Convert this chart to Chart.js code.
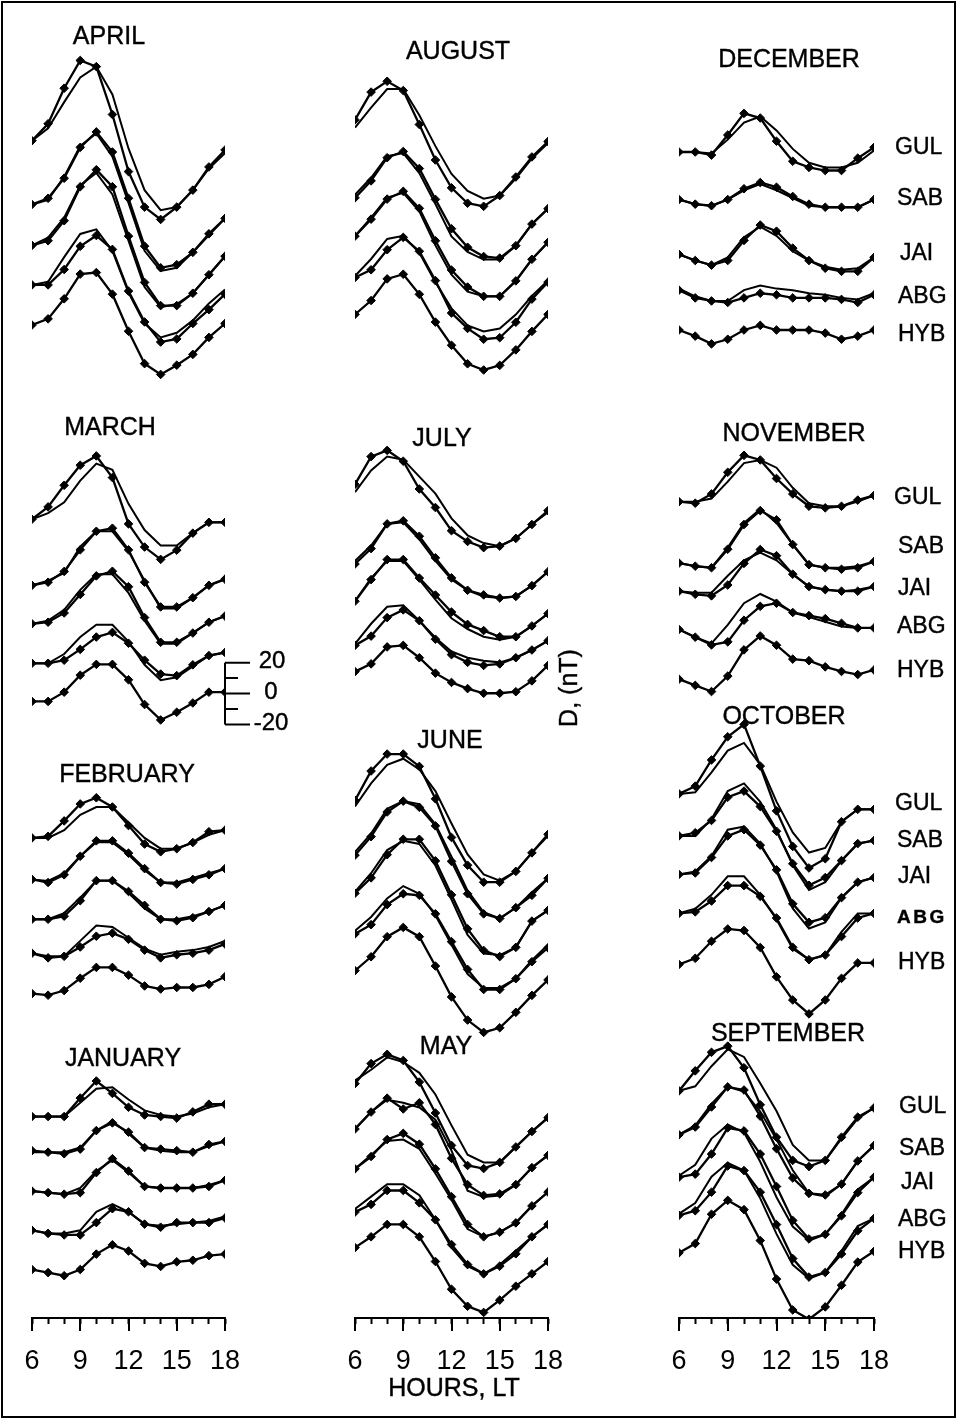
<!DOCTYPE html>
<html>
<head>
<meta charset="utf-8">
<script src="https://cdn.jsdelivr.net/npm/chart.js@4.4.1/dist/chart.umd.min.js"></script>
<style>
  html, body { margin: 0; padding: 0; background: #fff; }
  #page { position: relative; width: 957px; height: 1419px; overflow: hidden;
          font-family: "Liberation Sans", Arial, sans-serif; color: #000; }
  canvas { position: absolute; top: 0; }
  .frame { position: absolute; left: 1px; top: 1px; width: 951px; height: 1413px; border: 2px solid #000; }
  .t { position: absolute; transform: translate(-50%, -50%); white-space: nowrap; line-height: 1;
       -webkit-text-stroke: 0.4px #000; }
  .month { font-size: 25px; }
  .stn { position: absolute; transform: translateY(-50%); line-height: 1; font-size: 23px;
         -webkit-text-stroke: 0.4px #000; }
  .bar { font-size: 24px; }
</style>
</head>
<body>
<div id="page">
  <canvas id="c0" width="320" height="1419" style="left:0px"></canvas>
  <canvas id="c1" width="320" height="1419" style="left:320px"></canvas>
  <canvas id="c2" width="317" height="1419" style="left:640px"></canvas>
  <div class="frame"></div>

  <div class="t month" style="left:109px;top:35px">APRIL</div>
  <div class="t month" style="left:110px;top:426px">MARCH</div>
  <div class="t month" style="left:127px;top:773px">FEBRUARY</div>
  <div class="t month" style="left:123px;top:1057px">JANUARY</div>
  <div class="t month" style="left:458px;top:50px">AUGUST</div>
  <div class="t month" style="left:442px;top:437px">JULY</div>
  <div class="t month" style="left:450px;top:739px">JUNE</div>
  <div class="t month" style="left:446px;top:1045px">MAY</div>
  <div class="t month" style="left:789px;top:58px">DECEMBER</div>
  <div class="t month" style="left:794px;top:432px">NOVEMBER</div>
  <div class="t month" style="left:784px;top:715px">OCTOBER</div>
  <div class="t month" style="left:788px;top:1032px">SEPTEMBER</div>

  <div class="stn" style="left:895px;top:146px">GUL</div>
  <div class="stn" style="left:897px;top:197px">SAB</div>
  <div class="stn" style="left:900px;top:252px">JAI</div>
  <div class="stn" style="left:898px;top:295px">ABG</div>
  <div class="stn" style="left:898px;top:333px">HYB</div>

  <div class="stn" style="left:894px;top:496px">GUL</div>
  <div class="stn" style="left:898px;top:545px">SAB</div>
  <div class="stn" style="left:898px;top:587px">JAI</div>
  <div class="stn" style="left:897px;top:625px">ABG</div>
  <div class="stn" style="left:897px;top:669px">HYB</div>

  <div class="stn" style="left:895px;top:802px">GUL</div>
  <div class="stn" style="left:897px;top:839px">SAB</div>
  <div class="stn" style="left:898px;top:875px">JAI</div>
  <div class="stn" style="left:897px;top:916px;font-size:19px;font-weight:bold;letter-spacing:2.5px">ABG</div>
  <div class="stn" style="left:898px;top:961px">HYB</div>

  <div class="stn" style="left:899px;top:1105px">GUL</div>
  <div class="stn" style="left:899px;top:1147px">SAB</div>
  <div class="stn" style="left:901px;top:1181px">JAI</div>
  <div class="stn" style="left:898px;top:1218px">ABG</div>
  <div class="stn" style="left:898px;top:1250px">HYB</div>

  <div class="t bar" style="left:272px;top:660px">20</div>
  <div class="t bar" style="left:271px;top:691px">0</div>
  <div class="t bar" style="left:271px;top:722px">-20</div>

  <div class="t" style="left:568px;top:688px;font-size:25px;transform:translate(-50%,-50%) rotate(-90deg)">D, (nT)</div>
  <div class="t" style="left:454px;top:1387px;font-size:25px">HOURS, LT</div>
</div>

<script>
const HOURS = [6, 7, 8, 9, 10, 11, 12, 13, 14, 15, 16, 17, 18];
const LABELED_HOURS = [6, 9, 12, 15, 18];
const STATIONS = ['GUL', 'SAB', 'JAI', 'ABG', 'HYB'];

// D variation in nT, relative to each curve's 06 LT value.
// *Obs = curves with markers (5 stations), *Model = plain curves (GUL..ABG)
const aprilObs = [
  [0, 11, 34, 52, 48, 17, -20, -43, -51, -43, -32, -17, -6],
  [0, 4, 17, 37, 47, 34, 4, -27, -41, -39, -31, -19, -9],
  [0, 3, 16, 38, 49, 38, 6, -24, -39, -39, -31, -19, -7],
  [0, 0, 10, 25, 32, 23, -4, -24, -37, -35, -25, -16, -6],
  [0, 4, 17, 33, 34, 20, -4, -25, -32, -26, -19, -8, 1]
];
const aprilModel = [
  [0, 8, 25, 41, 48, 30, -5, -32, -45, -43, -32, -18, -8],
  [0, 3, 18, 38, 46, 31, 1, -30, -43, -41, -31, -20, -9],
  [0, 5, 18, 39, 47, 33, 3, -27, -40, -38, -31, -19, -7],
  [0, 2, 18, 33, 36, 22, -5, -25, -34, -31, -23, -12, -3]
];
const marchObs = [
  [0, 8, 22, 35, 41, 27, -3, -18, -26, -20, -9, -2, -2],
  [0, 2, 9, 23, 35, 37, 23, 2, -14, -14, -8, 0, 4],
  [0, 1, 7, 19, 31, 34, 24, 4, -12, -12, -6, 1, 5],
  [0, 0, 2, 9, 17, 20, 13, 2, -7, -8, -1, 5, 7],
  [0, 0, 6, 17, 24, 24, 14, -2, -12, -7, -1, 6, 6]
];
const marchModel = [
  [0, 4, 11, 25, 36, 32, 10, -7, -17, -17, -9, -2, -2],
  [0, 3, 8, 25, 35, 35, 22, 3, -15, -15, -8, 0, 4],
  [0, 2, 9, 22, 32, 32, 20, 2, -13, -13, -6, 1, 5],
  [0, 0, 6, 17, 25, 25, 14, -1, -11, -9, -2, 5, 7]
];
const februaryObs = [
  [0, 1, 11, 22, 26, 20, 8, -4, -9, -7, -3, 4, 5],
  [0, -2, 3, 15, 25, 25, 17, 7, -2, -3, 0, 3, 7],
  [0, 0, 2, 12, 25, 25, 18, 9, 0, -1, 1, 5, 9],
  [0, -3, -2, 4, 11, 13, 9, 2, -3, -1, 0, 2, 6],
  [0, -1, 2, 10, 17, 17, 12, 5, 3, 4, 4, 6, 11]
];
const februaryModel = [
  [0, 0, 5, 15, 20, 20, 10, 0, -7, -7, -3, 2, 5],
  [0, -1, 4, 15, 24, 24, 16, 6, -2, -2, 1, 4, 7],
  [0, 0, 4, 14, 25, 25, 17, 7, 0, 0, 2, 5, 9],
  [0, -2, -2, 8, 18, 17, 10, 3, -1, 1, 2, 4, 8]
];
const januaryObs = [
  [0, 0, 0, 12, 23, 15, 6, 1, 0, -1, 3, 8, 8],
  [0, -1, -2, 1, 13, 18, 12, 2, 1, 0, -1, 4, 6],
  [0, -1, -2, -1, 12, 21, 13, 3, 2, 2, 2, 3, 7],
  [0, -2, -3, -3, 5, 14, 12, 4, 2, 5, 5, 5, 8],
  [0, -2, -4, 0, 10, 16, 12, 4, 2, 5, 6, 9, 10]
];
const januaryModel = [
  [0, 0, 0, 9, 18, 19, 11, 4, 1, 0, 2, 6, 8],
  [-1, -1, -1, 2, 13, 19, 11, 2, 0, -1, -1, 3, 6],
  [0, -1, -2, 2, 13, 20, 12, 3, 2, 2, 2, 4, 7],
  [0, -2, -2, 0, 12, 17, 12, 4, 3, 4, 5, 6, 9]
];
const augustObs = [
  [0, 18, 25, 19, -3, -26, -44, -54, -56, -49, -37, -24, -14],
  [0, 11, 26, 30, 19, -1, -20, -32, -38, -39, -31, -17, -7],
  [0, 11, 24, 29, 18, -3, -22, -33, -39, -39, -29, -15, -4],
  [0, 5, 18, 26, 17, -2, -23, -33, -40, -39, -29, -14, -3],
  [0, 9, 23, 26, 13, -5, -20, -32, -36, -33, -23, -11, 0]
];
const augustModel = [
  [-5, 8, 20, 20, 3, -17, -35, -46, -51, -49, -38, -25, -15],
  [2, 13, 27, 29, 16, -4, -25, -35, -40, -40, -31, -17, -7],
  [0, 12, 25, 28, 16, -6, -25, -36, -39, -39, -29, -15, -4],
  [1, 12, 25, 27, 16, -3, -20, -31, -35, -33, -24, -12, -2]
];
const julyObs = [
  [0, 18, 22, 15, -3, -15, -30, -37, -41, -40, -35, -26, -17],
  [0, 10, 26, 28, 18, 4, -9, -17, -20, -22, -21, -14, -5],
  [0, 14, 27, 27, 15, 4, -7, -15, -19, -23, -23, -16, -8],
  [0, 6, 18, 23, 16, 4, -6, -11, -13, -12, -8, -3, 3],
  [0, 5, 16, 17, 9, -1, -7, -11, -14, -14, -13, -6, 4]
];
const julyModel = [
  [-5, 9, 18, 16, 5, -6, -22, -33, -38, -40, -35, -26, -18],
  [2, 12, 26, 27, 16, 2, -10, -17, -21, -22, -21, -14, -5],
  [0, 15, 26, 26, 14, 1, -11, -18, -23, -25, -23, -16, -8],
  [1, 14, 25, 26, 16, 5, -4, -8, -10, -11, -8, -3, 3]
];
const juneObs = [
  [0, 19, 30, 30, 22, 1, -24, -42, -53, -53, -46, -34, -22],
  [0, 12, 28, 35, 31, 19, -4, -25, -38, -41, -34, -26, -15],
  [0, 10, 25, 35, 35, 21, -1, -23, -37, -41, -35, -18, -11],
  [0, 6, 19, 26, 25, 13, -5, -23, -36, -36, -29, -18, -9],
  [0, 9, 22, 28, 22, 3, -17, -32, -40, -37, -27, -16, -6]
];
const juneModel = [
  [-4, 11, 23, 27, 20, 6, -15, -35, -48, -52, -46, -34, -23],
  [2, 14, 30, 35, 33, 20, -1, -23, -37, -41, -34, -24, -15],
  [1, 13, 28, 34, 32, 18, -4, -27, -39, -40, -35, -18, -11],
  [2, 11, 23, 31, 26, 12, -7, -26, -35, -35, -29, -17, -7]
];
const mayObs = [
  [0, 13, 19, 15, 1, -19, -40, -53, -55, -51, -41, -31, -22],
  [0, 11, 20, 13, 17, 3, -19, -36, -43, -42, -36, -25, -17],
  [0, 8, 19, 23, 16, 0, -18, -36, -44, -41, -35, -24, -15],
  [0, 5, 14, 14, 6, -5, -21, -34, -40, -35, -27, -16, -8],
  [0, 7, 15, 15, 7, -9, -27, -38, -42, -34, -25, -17, -9]
];
const mayModel = [
  [2, 9, 17, 14, 7, -7, -27, -46, -51, -51, -41, -31, -22],
  [0, 11, 19, 17, 14, 6, -14, -40, -44, -43, -36, -25, -17],
  [0, 9, 18, 19, 13, -3, -20, -39, -44, -41, -35, -24, -15],
  [2, 10, 18, 18, 11, -5, -23, -35, -40, -34, -25, -16, -8]
];
const decemberObs = [
  [0, 0, -2, 11, 25, 22, 7, -6, -10, -12, -12, -4, 3],
  [0, -3, -4, 0, 7, 11, 8, 2, -3, -5, -5, -5, 0],
  [0, -4, -7, -4, 9, 19, 15, 4, -4, -9, -11, -11, -2],
  [0, -5, -7, -8, -5, -2, -3, -5, -5, -5, -6, -8, -3],
  [0, -4, -9, -6, 0, 3, 0, 0, 0, -2, -6, -4, 0]
];
const decemberModel = [
  [0, 0, -1, 8, 19, 23, 14, 2, -7, -10, -10, -7, 1],
  [0, -3, -4, 0, 6, 10, 6, 1, -4, -5, -5, -5, 0],
  [0, -4, -7, -2, 11, 18, 12, 2, -4, -8, -10, -9, -2],
  [1, -4, -7, -7, 0, 3, 1, 0, -2, -3, -5, -6, -2]
];
const novemberObs = [
  [0, -1, 5, 19, 30, 27, 15, 5, -3, -4, -3, 1, 4],
  [0, -2, -3, 9, 25, 34, 28, 12, -1, -3, -4, -3, 1],
  [0, -2, -3, 4, 18, 27, 23, 11, 3, 1, 0, 0, 3],
  [0, -5, -10, -8, 6, 15, 17, 11, 9, 7, 4, 1, 1],
  [0, -4, -8, 2, 19, 28, 22, 13, 12, 8, 5, 3, 6]
];
const novemberModel = [
  [0, 0, 2, 13, 25, 27, 22, 9, -1, -3, -3, 0, 4],
  [0, -2, -3, 10, 26, 35, 26, 12, -1, -3, -3, -2, 1],
  [0, -1, -1, 10, 20, 25, 20, 11, 3, 1, 0, 1, 3],
  [0, -5, -9, 3, 17, 23, 18, 11, 8, 5, 2, 1, 1]
];
const octoberObs = [
  [0, 5, 22, 37, 45, 18, -11, -34, -48, -42, -18, -10, -10],
  [0, 2, 10, 25, 29, 19, 3, -18, -32, -27, -16, -5, -3],
  [0, 1, 11, 25, 29, 19, 3, -19, -31, -28, -15, -5, -2],
  [0, 1, 8, 18, 18, 11, -3, -22, -30, -27, -15, -3, 0],
  [0, 4, 15, 23, 22, 11, -8, -23, -32, -23, -9, 1, 1]
];
const octoberModel = [
  [0, 1, 14, 28, 33, 19, -5, -25, -38, -35, -18, -10, -10],
  [0, 0, 11, 29, 34, 22, 4, -19, -35, -30, -16, -5, -3],
  [0, 2, 12, 29, 31, 20, 2, -22, -35, -31, -15, -5, -2],
  [0, 3, 12, 24, 24, 12, -4, -23, -30, -27, -12, 0, 0]
];
const septemberObs = [
  [0, 13, 25, 29, 15, -9, -30, -45, -49, -45, -30, -17, -11],
  [0, 5, 18, 31, 29, 12, -9, -28, -38, -39, -32, -17, -7],
  [0, 2, 15, 32, 30, 15, -6, -28, -40, -37, -25, -10, 0],
  [0, 3, 15, 32, 29, 15, -6, -28, -40, -37, -25, -10, -2],
  [0, 6, 25, 34, 28, 8, -17, -37, -43, -35, -21, -6, 1]
];
const septemberModel = [
  [0, 3, 16, 27, 22, 5, -13, -35, -45, -45, -31, -18, -11],
  [0, 6, 20, 31, 28, 15, -3, -23, -38, -40, -32, -17, -7],
  [1, 8, 25, 34, 29, 10, -13, -32, -41, -37, -24, -8, 0],
  [1, 8, 25, 34, 29, 11, -12, -32, -41, -37, -23, -7, -2]
];

// stacking level (nT above the hour axis) of each station curve, per panel
const aprilLevel = [762.6, 721.3, 694.8, 669.2, 643.2];
const marchLevel = [517.4, 474.6, 449.7, 424.1, 399.4];
const februaryLevel = [311.0, 284.1, 258.3, 236.3, 210.1];
const januaryLevel = [130.5, 108.4, 82.2, 56.8, 31.4];
const augustLevel = [776.1, 725.6, 700.8, 674.0, 650.1];
const julyLevel = [540.0, 488.4, 464.3, 435.7, 418.7];
const juneLevel = [335.3, 299.8, 275.1, 248.8, 225.0];
const mayLevel = [151.8, 122.4, 96.6, 68.6, 45.6];
const decemberLevel = [755.3, 724.5, 689.0, 665.8, 640.0];
const novemberLevel = [528.8, 489.0, 470.8, 446.0, 413.8];
const octoberLevel = [339.5, 312.3, 287.3, 262.1, 229.0];
const septemberLevel = [147.1, 118.7, 91.2, 66.5, 42.2];

const SCALE_ZERO = 404.5;          // nT level of the 0 mark on the scale bar
const SCALE_MARKS = [20, 10, 0, -10, -20];

const PX_PER_NT = 1.55;
const AXIS_Y = 1318;               // pixel row of the hour axis
const Y_MAX = AXIS_Y / PX_PER_NT;

const columns = [
  { canvas: 'c0', pad: [32, 95], panels: [
    [aprilObs, aprilModel, aprilLevel], [marchObs, marchModel, marchLevel],
    [februaryObs, februaryModel, februaryLevel], [januaryObs, januaryModel, januaryLevel]] },
  { canvas: 'c1', pad: [35, 92], panels: [
    [augustObs, augustModel, augustLevel], [julyObs, julyModel, julyLevel],
    [juneObs, juneModel, juneLevel], [mayObs, mayModel, mayLevel]] },
  { canvas: 'c2', pad: [39, 83], panels: [
    [decemberObs, decemberModel, decemberLevel], [novemberObs, novemberModel, novemberLevel],
    [octoberObs, octoberModel, octoberLevel], [septemberObs, septemberModel, septemberLevel]] }
];

function buildDatasets(panels) {
  const sets = [];
  panels.forEach(([obs, model, level]) => {
    obs.forEach((vals, s) => {
      if (model[s]) {
        sets.push({
          label: STATIONS[s] + ' model',
          data: HOURS.map((h, i) => ({ x: h, y: level[s] + model[s][i] })),
          borderColor: '#000', borderWidth: 2, pointRadius: 0, tension: 0
        });
      }
      sets.push({
        label: STATIONS[s],
        data: HOURS.map((h, i) => ({ x: h, y: level[s] + vals[i] })),
        borderColor: '#000', borderWidth: 2.3, tension: 0,
        pointRadius: 4.3, pointStyle: 'rectRot',
        pointBackgroundColor: '#000', pointBorderColor: '#000', pointBorderWidth: 1
      });
    });
  });
  return sets;
}

// longer ticks at the labelled hours
const majorTicks = {
  id: 'majorTicks',
  afterDraw(chart) {
    const { ctx, scales: { x } } = chart;
    ctx.save();
    ctx.strokeStyle = '#000';
    ctx.lineWidth = 2;
    ctx.beginPath();
    LABELED_HOURS.forEach(h => {
      const px = Math.round(x.getPixelForValue(h));
      ctx.moveTo(px, x.top);
      ctx.lineTo(px, x.top + 13);
    });
    ctx.stroke();
    ctx.restore();
  }
};

const scaleBar = {
  id: 'scaleBar',
  afterDraw(chart) {
    const { ctx, scales: { x, y } } = chart;
    const px = x.getPixelForValue(18);
    ctx.save();
    ctx.strokeStyle = '#000';
    ctx.lineWidth = 2;
    ctx.beginPath();
    ctx.moveTo(px, y.getPixelForValue(SCALE_ZERO + 20));
    ctx.lineTo(px, y.getPixelForValue(SCALE_ZERO - 20));
    SCALE_MARKS.forEach(m => {
      const py = y.getPixelForValue(SCALE_ZERO + m);
      ctx.moveTo(px, py);
      ctx.lineTo(px + (m % 20 === 0 ? 25 : 13), py);
    });
    ctx.stroke();
    ctx.restore();
  }
};

columns.forEach((col, ci) => {
  new Chart(document.getElementById(col.canvas), {
    type: 'line',
    data: { datasets: buildDatasets(col.panels) },
    options: {
      responsive: false,
      animation: false,
      events: [],
      layout: { padding: { left: col.pad[0], right: col.pad[1], top: 0, bottom: 0 } },
      plugins: { legend: { display: false }, tooltip: { enabled: false } },
      scales: {
        x: {
          type: 'linear', min: 6, max: 18,
          afterFit: s => { s.height = 1419 - AXIS_Y; },
          border: { display: true, color: '#000', width: 2 },
          grid: { display: true, drawOnChartArea: false, drawTicks: true, tickLength: 6,
                  tickWidth: 2, tickColor: '#000', color: '#000' },
          ticks: {
            stepSize: 1, autoSkip: false, maxRotation: 0, color: '#000', padding: 21,
            font: { family: '"Liberation Sans", Arial, sans-serif', size: 27 },
            callback: v => LABELED_HOURS.includes(v) ? String(v) : ''
          }
        },
        y: { display: false, min: 0, max: Y_MAX }
      }
    },
    plugins: ci === 0 ? [majorTicks, scaleBar] : [majorTicks]
  });
});
</script>
</body>
</html>
